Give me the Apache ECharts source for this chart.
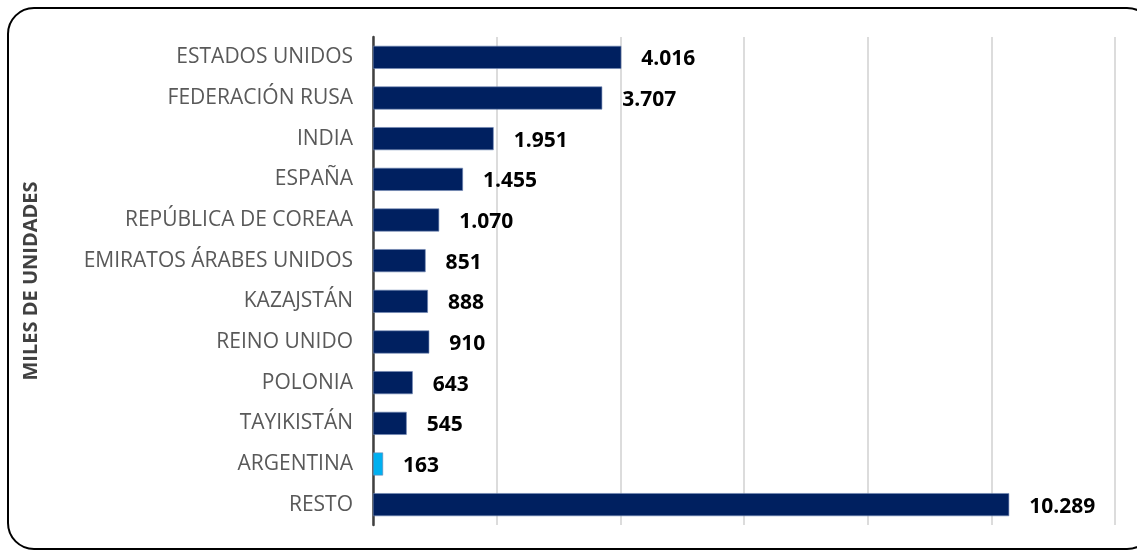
<!DOCTYPE html>
<html>
<head>
<meta charset="utf-8">
<script src="https://cdn.jsdelivr.net/npm/echarts@6/dist/echarts.min.js"></script>
<style>
	html, body { margin: 0; padding: 0; background: #fff; }
	#chart { width: 1137px; height: 550px; }
</style>
</head>
<body>
<div id="chart"></div>
<script>
var paises = ["ESTADOS UNIDOS", "FEDERACIÓN RUSA", "INDIA", "ESPAÑA", "REPÚBLICA DE COREAA",
	"EMIRATOS ÁRABES UNIDOS", "KAZAJSTÁN", "REINO UNIDO", "POLONIA", "TAYIKISTÁN", "ARGENTINA", "RESTO"];
var unidades = [4016, 3707, 1951, 1455, 1070, 851, 888, 910, 643, 545, 163, 10289];
var destacado = "ARGENTINA";

var myChart = echarts.init(document.getElementById("chart"));

// miles con punto
function fmt(v) {
	return String(v).replace(/\B(?=(\d{3})+(?!\d))/g, ".");
}

var option = {
	animation: false,
	textStyle: { fontFamily: "Open Sans" },
	graphic: [{
		type: 'rect',
		shape: { x: 8, y: 8, width: 1145, height: 541, r: 26 },
		style: { fill: 'none', stroke: '#000', lineWidth: 2 },
		z: -1
	}],
	grid: { left: 373, right: 22, top: 37, bottom: 25 },
	xAxis: {
		type: 'value',
		min: 0,
		max: 12000,
		interval: 2000,
		axisLabel: { show: false },
		axisLine: { show: false },
		axisTick: { show: false },
		splitLine: { lineStyle: { color: '#d0d0d0', width: 1.5 } }
	},
	yAxis: {
		type: 'category',
		inverse: true,
		data: paises,
		name: 'MILES DE UNIDADES',
		nameLocation: 'middle',
		nameRotate: 90,
		nameGap: 332,
		nameTextStyle: { fontSize: 20, fontWeight: 'bold', color: '#404040', fontFamily: 'Open Sans' },
		axisTick: { show: false },
		axisLine: { lineStyle: { color: '#404040', width: 2.5 } },
		axisLabel: { fontSize: 21, color: '#595959', margin: 20, fontFamily: 'Open Sans' }
	},
	series: [{
		type: 'bar',
		data: unidades.map(function(v, i) {
			return {
				value: v,
				itemStyle: { color: paises[i] == destacado ? '#00b0f0' : '#002060' }
			};
		}),
		barWidth: 23,
		itemStyle: { borderColor: '#6f86b3', borderWidth: 0.6 },
		label: {
			show: true,
			position: 'right',
			distance: 20,
			offset: [0, 2],
			fontSize: 21,
			fontWeight: 'bold',
			color: '#000',
			fontFamily: 'Open Sans',
			formatter: function(p) { return fmt(p.value); }
		}
	}]
};
myChart.setOption(option);
</script>
</body>
</html>
